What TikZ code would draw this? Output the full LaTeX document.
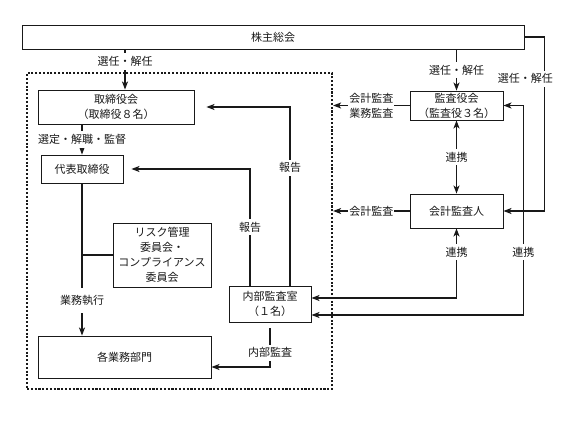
\documentclass[tikz,border=0pt]{standalone}
\usepackage{fontspec}
\setmainfont{Noto Sans CJK JP}
\usepackage{tikz}
\usetikzlibrary{arrows.meta,positioning}
\usepackage{xcolor}
\definecolor{inkBlack}{RGB}{25,25,25}

\begin{document}
\begin{tikzpicture}[x=1pt, y=-1pt,
  box/.style={rectangle, draw=inkBlack, line width=0.9pt, fill=white,
              align=center, inner sep=1pt, text=inkBlack,
              font=\fontsize{11}{15}\selectfont},
  lbl/.style={fill=white, inner xsep=1pt, inner ysep=3pt, align=center,
              text=inkBlack, font=\fontsize{11}{15}\selectfont},
  arr/.style={-{Stealth[length=8pt,width=6pt,inset=2pt]}, line width=1.3pt, inkBlack},
  dblarr/.style={{Stealth[length=8pt,width=6pt,inset=2pt]}-{Stealth[length=8pt,width=6pt,inset=2pt]},
                 line width=1.3pt, inkBlack},
  link/.style={line width=1.3pt, inkBlack},
  auditframe/.style={rectangle, draw=inkBlack, line width=2.2pt,
                     dash pattern=on 2.1pt off 1.7pt}
]
  \useasboundingbox (0,0) rectangle (573,430);
  \node[auditframe, minimum width=305pt, minimum height=316pt] (board) at (179.5,231) {};
  \node[box, minimum width=502pt, minimum height=24pt] (Kabu) at (273,37) {株主総会};
  \node[box, minimum width=156pt, minimum height=34pt] (Tori) at (116,107)
    {取締役会\\（取締役８名）};
  \node[box, minimum width=82pt, minimum height=28pt] (Daihyo) at (82,169) {代表取締役};
  \node[box, minimum width=98pt, minimum height=64pt] (Risk) at (162,255)
    {リスク管理\\委員会・\\コンプライアンス\\委員会};
  \node[box, minimum width=82pt, minimum height=36pt] (Naibu) at (270,304)
    {内部監査室\\（１名）};
  \node[box, minimum width=173pt, minimum height=42pt] (Gyomu) at (124.5,357) {各業務部門};
  \node[box, minimum width=93pt, minimum height=29pt] (Kansa) at (456.5,105.5)
    {監査役会\\（監査役３名）};
  \node[box, minimum width=93pt, minimum height=34pt] (Kaikei) at (456.5,211) {会計監査人};

  \draw[arr] ([xshift=9pt]Tori.north |- Kabu.south) -- ([xshift=9pt]Tori.north)
    node[lbl, pos=0.3] {選任・解任};
  \draw[arr] (Tori.south -| Daihyo.north) -- (Daihyo.north)
    node[lbl, pos=0.5] {選定・解職・監督};
  \draw[arr] (Daihyo.south) -- (Daihyo.south |- Gyomu.north)
    node[lbl, pos=0.77, inner ysep=7pt] {業務執行};
  \draw[link] (Risk.west) -- (Risk.west -| Daihyo.south);
  \draw[arr, shorten >=8pt] ([xshift=-20pt]Naibu.north) |- (Daihyo.east)
    node[lbl, pos=0.25] {報告};
  \draw[arr, shorten >=12pt] ([xshift=20pt]Naibu.north) |- (Tori.east)
    node[lbl, pos=0.33] {報告};
  \draw[arr, shorten <=6pt] (Naibu.south) |- ([yshift=-10pt]Gyomu.east)
    node[lbl, pos=0.34] {内部監査};
  \draw[arr] (Kabu.south -| Kansa.north) -- (Kansa.north)
    node[lbl, pos=0.5] {選任・解任};
  \draw[arr] (Kansa.west) -- (Kansa.west -| board.east)
    node[lbl, pos=0.5] {会計監査\\業務監査};
  \draw[arr] (Kaikei.west) -- (Kaikei.west -| board.east)
    node[lbl, pos=0.5] {会計監査};
  \draw[dblarr] (Kansa.south) -- (Kaikei.north)
    node[lbl, pos=0.5] {連携};
  \draw[dblarr] (Kaikei.south) |- ([yshift=6pt]Naibu.east)
    node[lbl, pos=0.17] {連携};
  \draw[dblarr] (Kansa.east) -- ++(20,0) |- ([yshift=-11pt]Naibu.east)
    node[lbl, pos=0.35] {連携};
  \draw[arr] (Kabu.east) -- ++(20,0) |- (Kaikei.east)
    node[lbl, pos=0.12, xshift=-19pt] {選任・解任};
\end{tikzpicture}
\end{document}
